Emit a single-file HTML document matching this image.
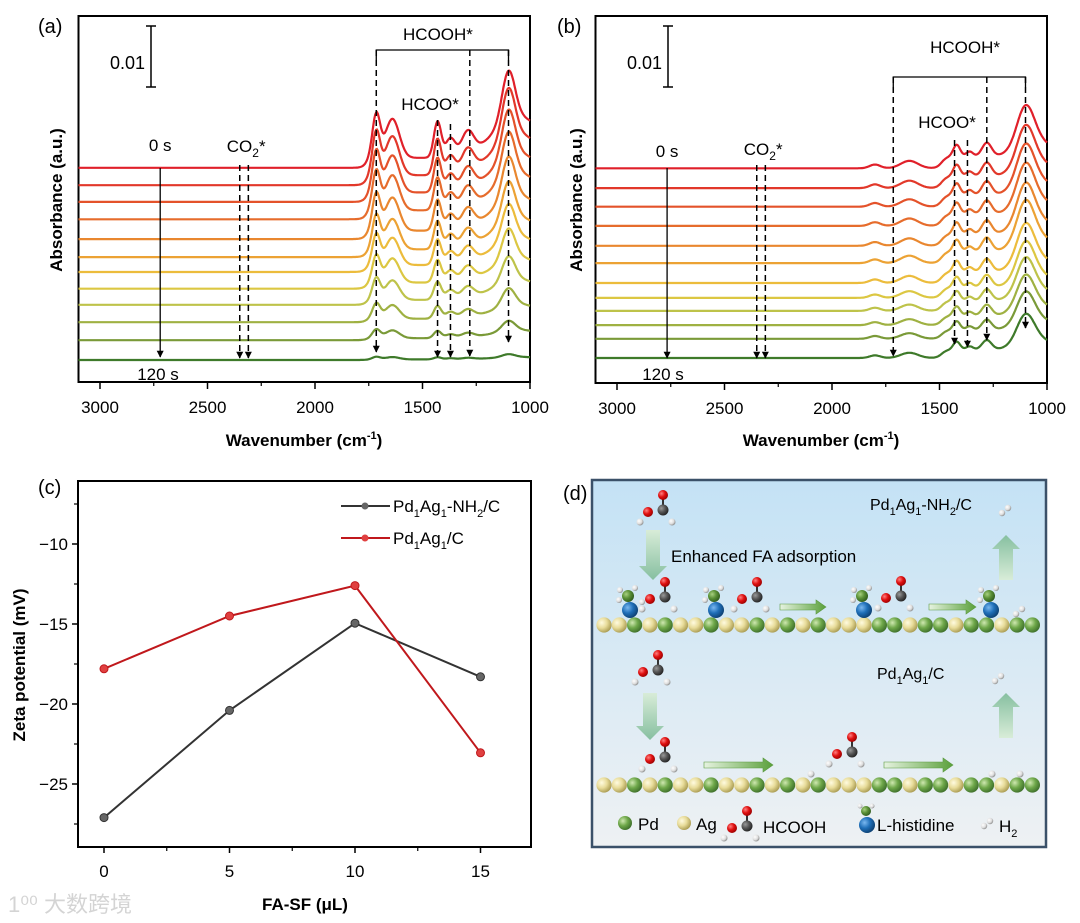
<!DOCTYPE html>
<html><head><meta charset="utf-8"><style>
body{margin:0;background:#fff}
svg{display:block;font-family:"Liberation Sans","Noto Sans CJK SC",sans-serif}
</style></head><body>
<svg id="fig" width="1080" height="923" viewBox="0 0 1080 923" xmlns="http://www.w3.org/2000/svg">
<defs>
<marker id="ah" viewBox="0 0 10 10" refX="9" refY="5" markerWidth="7" markerHeight="9" orient="auto" markerUnits="userSpaceOnUse"><path d="M0,0 L10,5 L0,10 z" fill="#000"/></marker>
<radialGradient id="gPd" cx="0.35" cy="0.35" r="0.7"><stop offset="0" stop-color="#cfe8b0"/><stop offset="0.5" stop-color="#6fa84a"/><stop offset="1" stop-color="#3d6e2a"/></radialGradient>
<radialGradient id="gAg" cx="0.35" cy="0.35" r="0.7"><stop offset="0" stop-color="#fffbe0"/><stop offset="0.5" stop-color="#e8dc9a"/><stop offset="1" stop-color="#a89a50"/></radialGradient>
<radialGradient id="gO" cx="0.35" cy="0.35" r="0.7"><stop offset="0" stop-color="#ff8080"/><stop offset="0.5" stop-color="#e01010"/><stop offset="1" stop-color="#900"/></radialGradient>
<radialGradient id="gC" cx="0.35" cy="0.35" r="0.7"><stop offset="0" stop-color="#999"/><stop offset="0.5" stop-color="#555"/><stop offset="1" stop-color="#222"/></radialGradient>
<radialGradient id="gH" cx="0.35" cy="0.35" r="0.7"><stop offset="0" stop-color="#fff"/><stop offset="0.6" stop-color="#ddd"/><stop offset="1" stop-color="#888"/></radialGradient>
<radialGradient id="gN" cx="0.35" cy="0.35" r="0.7"><stop offset="0" stop-color="#7ab8f0"/><stop offset="0.5" stop-color="#1f6fb8"/><stop offset="1" stop-color="#0d3f70"/></radialGradient>
<radialGradient id="gG" cx="0.35" cy="0.35" r="0.7"><stop offset="0" stop-color="#a8d080"/><stop offset="0.5" stop-color="#5a9036"/><stop offset="1" stop-color="#2e5a1c"/></radialGradient>
<linearGradient id="bgD" x1="0" y1="0" x2="0" y2="1"><stop offset="0" stop-color="#c4e2f5"/><stop offset="1" stop-color="#eef1f3"/></linearGradient>
<linearGradient id="arrDown" x1="0" y1="0" x2="0" y2="1"><stop offset="0" stop-color="#d8ecd8"/><stop offset="1" stop-color="#86bfa0"/></linearGradient>
<linearGradient id="arrUp" x1="0" y1="1" x2="0" y2="0"><stop offset="0" stop-color="#d8ecd8"/><stop offset="1" stop-color="#86bfa0"/></linearGradient>
<linearGradient id="arrH" x1="0" y1="0" x2="1" y2="0"><stop offset="0" stop-color="#e6f3e0"/><stop offset="1" stop-color="#5aa03a"/></linearGradient>
</defs>
<g id="panelA"></g>
<g id="panelB"></g>
<g id="panelC"></g>
<g id="panelD"></g>
<text x="8" y="912" font-size="22" fill="#d4d4d4">1⁰⁰ 大数跨境</text>
</svg>
<script>
// ---------- data ----------
const curveColors = ['#e0202a','#e2382a','#e4522a','#e66c2c','#e9872f','#eca234','#ecbc3c','#dcc742','#bec34a','#9fb142','#7a9a38','#3e7a2a'];
// panel (a): offsets of each spectrum (x0.001 a.u.) and intensity factor
const offsetsA = [31.0,28.2,25.5,22.7,19.5,16.6,14.2,11.5,8.9,6.1,3.2,0];
const scalesA = [1,1,0.95,0.9,0.85,0.78,0.7,0.62,0.5,0.35,0.2,0.06];
const peakCentersA = [1715,1640,1430,1370,1290,1100,1050];
const peakAmpsA = [7.0,6.3,5.8,3.0,3.6,8.1,6.5];
const peakWidthsA = [18,32,17,22,28,30,120];
const plateauA = 1.6;
// panel (b)
const offsetsB = [30.6,27.4,24.4,21.3,18.1,15.3,12.1,9.7,7.6,5.3,3.1,0];
const scalesB = [1,1,1,1,1,1,0.95,0.9,0.85,0.8,0.75,0.7];
const peakCentersB = [1800,1640,1420,1360,1280,1100,1050];
const peakAmpsB = [0.6,1.2,1.9,0.8,2.2,6.3,2.4];
const peakWidthsB = [25,40,16,16,22,40,80];
const plateauB = 1.9;
const ticksX = [3000,2500,2000,1500,1000];
// panel (c)
const fasf = [0,5,10,15];
const zetaNH2 = [-27.1,-20.4,-14.95,-18.3];
const zetaPlain = [-17.8,-14.5,-12.6,-23.05];
const ticksCY = [-10,-15,-20,-25];
const ticksCX = [0,5,10,15];

const NS='http://www.w3.org/2000/svg';
function el(tag, attrs, parent, txt){const e=document.createElementNS(NS,tag);for(const k in attrs)e.setAttribute(k,attrs[k]);if(txt!==undefined)e.textContent=txt;parent.appendChild(e);return e;}
const g=(w,c,s)=>Math.exp(-0.5*((w-c)/s)**2);
const sig=(w,c,k)=>1/(1+Math.exp((w-c)/k));

function spectraPanel(root, opt){
  const {L,R,T,B,bottomBase,offsets,scales,centers,amps,widths,plateau,plateauC} = opt;
  const px = w => L + (3100-w)*(R-L)/2100;
  const k = 6.2;
  const box=el('rect',{x:L,y:T,width:R-L,height:B-T,fill:'none',stroke:'#000','stroke-width':2},root);
   
  ticksX.forEach(t=>{
    const tk=el('line',{x1:px(t),x2:px(t),y1:B,y2:B+7,stroke:'#000','stroke-width':1.5},root);
     
    const lb=el('text',{x:px(t),y:B+31,'font-size':17,'text-anchor':'middle'},root,String(t));
     
  });
  [2750,2250,1750,1250].forEach(t=>{el('line',{x1:px(t),x2:px(t),y1:B,y2:B+4,stroke:'#000','stroke-width':1.2},root);});
  offsets.forEach((off,i)=>{
    let d='';
    for(let w=3100;w>=1000;w-=4){
      let f=plateau*sig(w,plateauC,12);
      for(let j=0;j<centers.length;j++) f+=amps[j]*g(w,centers[j],widths[j]);
      const y=bottomBase - k*(off + scales[i]*f);
      d+=(d?'L':'M')+px(w).toFixed(1)+','+y.toFixed(1);
    }
    const p=el('path',{d:d,fill:'none',stroke:curveColors[i],'stroke-width':2.2},root);
     
  });
  return px;
}
function dashArrow(root,x,y1,y2,name){const l=el('line',{x1:x,x2:x,y1:y1,y2:y2,stroke:'#000','stroke-width':1.5,'stroke-dasharray':'6,4','marker-end':'url(#ah)'},root);}
function txt(root,x,y,s,size,name,extra){const t=el('text',Object.assign({x:x,y:y,'font-size':size},extra||{}),root);t.innerHTML=s;return t;}
function scaleBar(root,x,name){
  el('line',{x1:x,x2:x,y1:26,y2:87,stroke:'#000','stroke-width':1.5},root);
  el('line',{x1:x-5,x2:x+5,y1:26,y2:26,stroke:'#000','stroke-width':1.5},root);
  el('line',{x1:x-5,x2:x+5,y1:87,y2:87,stroke:'#000','stroke-width':1.5},root);
  txt(root,x-6,69,'0.01',18,name,{'text-anchor':'end'});
}
const CO2='CO<tspan font-size="12" dy="5">2</tspan><tspan dy="-5">*</tspan>';
const WN='Wavenumber (cm<tspan font-size="11" dy="-7">-1</tspan><tspan dy="7">)</tspan>';

// ---------- panel a ----------
const A=document.getElementById('panelA');
const pxA=spectraPanel(A,{L:78.5,R:530,T:16,B:382,bottomBase:360,offsets:offsetsA,scales:scalesA,centers:peakCentersA,amps:peakAmpsA,widths:peakWidthsA,plateau:plateauA,plateauC:1760});
txt(A,38,33,'(a)',20,'panel-label-a');
scaleBar(A,151,'scale-bar-label');
txt(A,pxA(1428),40,'HCOOH*',17,'hcooh-label',{'text-anchor':'middle'});
el('polyline',{points:`${pxA(1715)},60 ${pxA(1715)},50 ${pxA(1100)},50 ${pxA(1100)},60`,fill:'none',stroke:'#000','stroke-width':1.3},A);
dashArrow(A,pxA(1715),50,352,'hcooh-marker-1715');
dashArrow(A,pxA(1280),50,356,'hcooh-marker-1280');
dashArrow(A,pxA(1100),50,342,'hcooh-marker-1100');
txt(A,pxA(1465),110,'HCOO*',17,'hcoo-label',{'text-anchor':'middle'});
dashArrow(A,pxA(1430),120,357,'hcoo-marker-1430');
dashArrow(A,pxA(1370),124,357,'hcoo-marker-1370');
txt(A,pxA(2320),152,CO2,17,'co2-label',{'text-anchor':'middle'});
dashArrow(A,pxA(2350),165,358,'co2-marker-1');
dashArrow(A,pxA(2310),165,358,'co2-marker-2');
txt(A,pxA(2720),151,'0 s',17,'time-start-label',{'text-anchor':'middle'});
el('line',{x1:pxA(2720),x2:pxA(2720),y1:168,y2:357,stroke:'#000','stroke-width':1.3,'marker-end':'url(#ah)'},A);
txt(A,158,380,'120 s',17,'time-end-label',{'text-anchor':'middle'});
txt(A,0,0,'Absorbance (a.u.)',17,'y-axis-title-a',{'font-weight':'bold','text-anchor':'middle',transform:'translate(62,200) rotate(-90)'});
txt(A,304,446,WN,17,'x-axis-title-a',{'font-weight':'bold','text-anchor':'middle'});

// ---------- panel b ----------
const Bp=document.getElementById('panelB');
const pxB=spectraPanel(Bp,{L:595.5,R:1047,T:16,B:383,bottomBase:358,offsets:offsetsB,scales:scalesB,centers:peakCentersB,amps:peakAmpsB,widths:peakWidthsB,plateau:plateauB,plateauC:1490});
txt(Bp,557,33,'(b)',20,'panel-label-b');
scaleBar(Bp,668,'scale-bar-label-b');
txt(Bp,pxB(1381),53,'HCOOH*',17,'hcooh-label-b',{'text-anchor':'middle'});
el('polyline',{points:`${pxB(1715)},87 ${pxB(1715)},77 ${pxB(1100)},77 ${pxB(1100)},87`,fill:'none',stroke:'#000','stroke-width':1.3},Bp);
dashArrow(Bp,pxB(1715),77,356,'hcooh-marker-b-1715');
dashArrow(Bp,pxB(1280),77,340,'hcooh-marker-b-1280');
dashArrow(Bp,pxB(1100),77,328,'hcooh-marker-b-1100');
txt(Bp,pxB(1465),128,'HCOO*',17,'hcoo-label-b',{'text-anchor':'middle'});
dashArrow(Bp,pxB(1430),140,344,'hcoo-marker-b-1430');
dashArrow(Bp,pxB(1370),140,347,'hcoo-marker-b-1370');
txt(Bp,pxB(2320),155,CO2,17,'co2-label-b',{'text-anchor':'middle'});
dashArrow(Bp,pxB(2350),165,358,'co2-marker-b-1');
dashArrow(Bp,pxB(2310),165,358,'co2-marker-b-2');
txt(Bp,pxB(2767),157,'0 s',17,'time-start-label-b',{'text-anchor':'middle'});
el('line',{x1:pxB(2767),x2:pxB(2767),y1:168,y2:358,stroke:'#000','stroke-width':1.3,'marker-end':'url(#ah)'},Bp);
txt(Bp,663,380,'120 s',17,'time-end-label-b',{'text-anchor':'middle'});
txt(Bp,0,0,'Absorbance (a.u.)',17,'y-axis-title-b',{'font-weight':'bold','text-anchor':'middle',transform:'translate(582,200) rotate(-90)'});
txt(Bp,821,446,WN,17,'x-axis-title-b',{'font-weight':'bold','text-anchor':'middle'});

// ---------- panel c ----------
const C=document.getElementById('panelC');
const cL=78,cR=531,cT=481,cB=847;
const xC=v=>104+v*25.1, yC=v=>544-(v+10)*16;
el('rect',{x:cL,y:cT,width:cR-cL,height:cB-cT,fill:'none',stroke:'#000','stroke-width':2},C);
ticksCX.forEach(t=>{el('line',{x1:xC(t),x2:xC(t),y1:cB,y2:cB+6,stroke:'#000','stroke-width':1.5},C);txt(C,xC(t),cB+30,String(t),17,'x-tick-label-c',{'text-anchor':'middle'});});
[2.5,7.5,12.5].forEach(t=>el('line',{x1:xC(t),x2:xC(t),y1:cB,y2:cB+4,stroke:'#000','stroke-width':1.2},C));
ticksCY.forEach(t=>{el('line',{x1:cL-6,x2:cL,y1:yC(t),y2:yC(t),stroke:'#000','stroke-width':1.5},C);txt(C,cL-10,yC(t)+6,'−'+Math.abs(t),17,'y-tick-label-c',{'text-anchor':'end'});});
[-7.5,-12.5,-17.5,-22.5,-27.5].forEach(t=>el('line',{x1:cL-4,x2:cL,y1:yC(t),y2:yC(t),stroke:'#000','stroke-width':1.2},C));
function series(vals,col,grad,name){
  const pts=fasf.map((x,i)=>xC(x)+','+yC(vals[i])).join(' ');
  const pl=el('polyline',{points:pts,fill:'none',stroke:col,'stroke-width':2},C);
   
  fasf.forEach((x,i)=>{const c=el('circle',{cx:xC(x),cy:yC(vals[i]),r:4,fill:grad,stroke:col,'stroke-width':1},C);});
}
series(zetaNH2,'#333','#666','series-nh2');
series(zetaPlain,'#c0181c','#e04040','series-plain');
txt(C,38,494,'(c)',20,'panel-label-c');
el('line',{x1:341,x2:390,y1:506,y2:506,stroke:'#333','stroke-width':2},C);el('circle',{cx:365,cy:506,r:3.5,fill:'#666'},C);
txt(C,393,512,'Pd<tspan font-size="11" dy="5">1</tspan><tspan dy="-5">Ag</tspan><tspan font-size="11" dy="5">1</tspan><tspan dy="-5">-NH</tspan><tspan font-size="11" dy="5">2</tspan><tspan dy="-5">/C</tspan>',17,'legend-entry-nh2');
el('line',{x1:341,x2:390,y1:538,y2:538,stroke:'#c0181c','stroke-width':2},C);el('circle',{cx:365,cy:538,r:3.5,fill:'#e04040'},C);
txt(C,393,544,'Pd<tspan font-size="11" dy="5">1</tspan><tspan dy="-5">Ag</tspan><tspan font-size="11" dy="5">1</tspan><tspan dy="-5">/C</tspan>',17,'legend-entry-plain');
txt(C,0,0,'Zeta potential (mV)',17,'y-axis-title-c',{'font-weight':'bold','text-anchor':'middle',transform:'translate(25,665) rotate(-90)'});
txt(C,305,910,'FA-SF  (μL)',17,'x-axis-title-c',{'font-weight':'bold','text-anchor':'middle','xml:space':'preserve'});

// ---------- panel d ----------
const D=document.getElementById('panelD');
el('rect',{x:592,y:480,width:454,height:367,fill:'url(#bgD)',stroke:'#3b5169','stroke-width':2.5},D);
txt(D,563,500,'(d)',20,'panel-label-d');
const pattern='AAPAPAAPAAPAPAPAAAPPAPPAPPAPP';
function row(y){for(let i=0;i<29;i++){el('circle',{cx:604+i*15.3,cy:y,r:7.6,fill:pattern[i]==='P'?'url(#gPd)':'url(#gAg)'},D);}}
row(625);row(785);
function atom(x,y,r,f){el('circle',{cx:x,cy:y,r:r,fill:f},D);}
function hcooh(x,y){
  el('line',{x1:x,y1:y,x2:x,y2:y-14,stroke:'#333','stroke-width':2},D);
  atom(x,y-15,5,'url(#gO)');atom(x-15,y+2,5,'url(#gO)');atom(x,y,5.5,'url(#gC)');
  atom(x+9,y+12,3.5,'url(#gH)');atom(x-23,y+12,3.5,'url(#gH)');
}
function hist(x,y){atom(x,y,8,'url(#gN)');atom(x-2,y-14,6,'url(#gG)');atom(x-10,y-20,3,'url(#gH)');atom(x+5,y-22,3,'url(#gH)');atom(x-11,y-10,3,'url(#gH)');}
function h2(x,y){atom(x,y,3.2,'url(#gH)');atom(x+6,y-5,3.2,'url(#gH)');}
function bigArrow(x,y1,y2,grad){const dir=y2>y1?1:-1;const ys=y1,ye=y2;
  el('path',{d:`M${x-7},${ys} L${x+7},${ys} L${x+7},${ye-dir*14} L${x+14},${ye-dir*14} L${x},${ye} L${x-14},${ye-dir*14} L${x-7},${ye-dir*14} Z`,fill:grad},D);}
function hArrow(x1,x2,y){el('path',{d:`M${x1},${y-3} L${x2-10},${y-3} L${x2-10},${y-7} L${x2},${y} L${x2-10},${y+7} L${x2-10},${y+3} L${x1},${y+3} Z`,fill:'url(#arrH)',stroke:'#5a9a40','stroke-width':0.6},D);}
hcooh(663,510);
bigArrow(653,530,580,'url(#arrDown)');
txt(D,671,562,'Enhanced FA adsorption',17,'enhanced-fa-label');
hist(630,610);hcooh(665,597);atom(642,602,3,'url(#gH)');
hist(716,610);hcooh(757,597);
hArrow(780,826,607);
hist(864,610);hcooh(901,596);
hArrow(929,976,607);
hist(991,610);h2(1016,614);
bigArrow(1006,580,535,'url(#arrUp)');
h2(1002,513);
txt(D,870,510,'Pd<tspan font-size="11" dy="5">1</tspan><tspan dy="-5">Ag</tspan><tspan font-size="11" dy="5">1</tspan><tspan dy="-5">-NH</tspan><tspan font-size="11" dy="5">2</tspan><tspan dy="-5">/C</tspan>',16,'label-nh2-catalyst');
hcooh(658,670);
bigArrow(650,693,740,'url(#arrDown)');
hcooh(665,757);
hArrow(704,773,765);
atom(811,774,3.5,'url(#gH)');
hcooh(852,752);
hArrow(884,953,765);
atom(992,774,3.5,'url(#gH)');atom(1020,774,3.5,'url(#gH)');
bigArrow(1006,738,693,'url(#arrUp)');
h2(995,681);
txt(D,877,679,'Pd<tspan font-size="11" dy="5">1</tspan><tspan dy="-5">Ag</tspan><tspan font-size="11" dy="5">1</tspan><tspan dy="-5">/C</tspan>',16,'label-plain-catalyst');
atom(625,823,7,'url(#gPd)');txt(D,638,830,'Pd',17,'legend-pd');
atom(684,823,7,'url(#gAg)');txt(D,696,830,'Ag',17,'legend-ag');
hcooh(747,826);txt(D,763,833,'HCOOH',17,'legend-hcooh');
atom(867,825,8,'url(#gN)');atom(866,811,5,'url(#gG)');atom(860,806,2.5,'url(#gH)');atom(872,806,2.5,'url(#gH)');
txt(D,877,831,'L-histidine',17,'legend-histidine');
h2(984,826);txt(D,999,832,'H<tspan font-size="11" dy="5">2</tspan>',17,'legend-h2');
</script>
</body></html>
